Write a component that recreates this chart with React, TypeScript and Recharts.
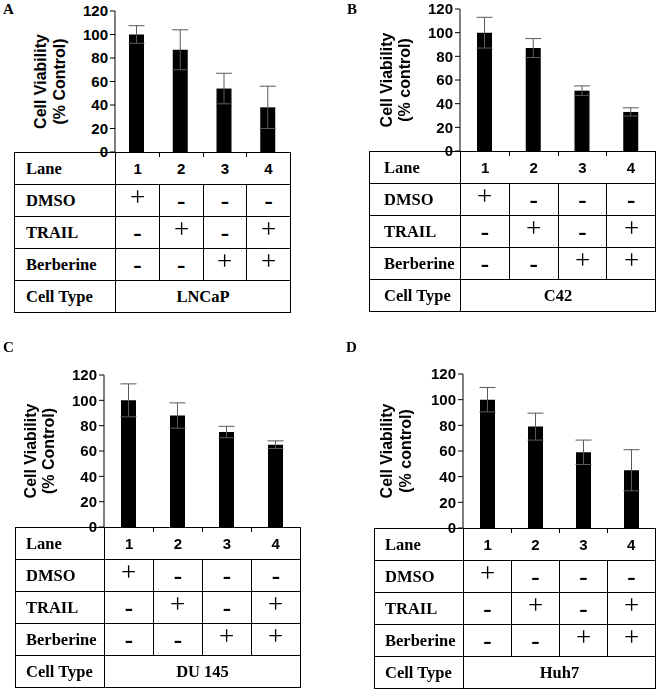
import React from 'react';
import { BarChart, Bar, XAxis, YAxis, ErrorBar } from 'recharts';

// shared categories / table content
const lanes = ['1', '2', '3', '4'];
const yTicks = [0, 20, 40, 60, 80, 100, 120];
const dmso = ['+', '-', '-', '-'];
const trail = ['-', '+', '-', '+'];
const berberine = ['-', '-', '+', '+'];

// cell viability (% control), mean and error per lane
const lncapMean = [100, 87, 54, 38];
const lncapErr = [7.5, 17, 13, 18];
const c42Mean = [100, 87, 51, 33];
const c42Err = [13, 8, 4, 3.5];
const du145Mean = [100, 88, 75, 65];
const du145Err = [13, 10, 4.5, 3];
const huh7Mean = [100, 79, 59, 45];
const huh7Err = [9.5, 10.5, 9.5, 16];

const serif = '"Liberation Serif", "DejaVu Serif", serif';
const sans = '"Liberation Sans", Arial, sans-serif';
const border = '1px solid #000';

interface Geom {
  x0: number;
  letterX: number;
  letterY: number;
  tableLeft: number;
  axisX: number;
  right: number;
  plotTop: number;
  zeroY: number;
  title1X: number;
  title2X: number;
  pad: number;
}

interface PanelProps {
  letter: string;
  cellType: string;
  title2: string;
  means: number[];
  errs: number[];
  g: Geom;
}

function Sym({ s }: { s: string }) {
  if (s === '+') {
    return (
      <span
        style={{
          display: 'inline-block',
          fontFamily: serif,
          fontWeight: 'normal',
          fontSize: 27,
          lineHeight: 1,
          transform: 'translateY(-3px)',
          willChange: 'transform',
          WebkitFontSmoothing: 'antialiased',
        }}
      >
        +
      </span>
    );
  }
  return (
    <span style={{ fontFamily: serif, fontWeight: 'bold', fontSize: 25, lineHeight: 1 }}>-</span>
  );
}

function Panel({ letter, cellType, title2, means, errs, g }: PanelProps) {
  const data = lanes.map((lane, i) => ({ lane, mean: means[i], err: errs[i] }));
  const L = g.x0;
  const T = g.plotTop - 12;
  const W = g.right - L + 6;
  const H = g.zeroY - T + 10;
  const band = (g.right - g.axisX) / lanes.length;
  const midY = (g.plotTop + g.zeroY) / 2;

  const labelTd: React.CSSProperties = {
    border,
    padding: `0 0 0 ${g.pad}px`,
    fontFamily: serif,
    fontWeight: 'bold',
    fontSize: 16.5,
    textAlign: 'left',
    verticalAlign: 'middle',
    whiteSpace: 'nowrap',
  };
  const symTd: React.CSSProperties = {
    border,
    padding: 0,
    textAlign: 'center',
    verticalAlign: 'middle',
  };
  const rows: [string, string[]][] = [
    ['DMSO', dmso],
    ['TRAIL', trail],
    ['Berberine', berberine],
  ];

  return (
    <>
      <svg
        width={660}
        height={692}
        style={{ position: 'absolute', left: 0, top: 0, pointerEvents: 'none' }}
      >
        <text x={g.letterX} y={g.letterY} fontFamily={serif} fontWeight="bold" fontSize={15}>
          {letter}
        </text>
        <text
          transform="rotate(-90)"
          x={-midY}
          y={g.title1X}
          textAnchor="middle"
          fontFamily={sans}
          fontWeight="bold"
          fontSize={16}
        >
          Cell Viability
        </text>
        <text
          transform="rotate(-90)"
          x={-midY}
          y={g.title2X}
          textAnchor="middle"
          fontFamily={sans}
          fontWeight="bold"
          fontSize={16}
        >
          {title2}
        </text>
      </svg>

      <div style={{ position: 'absolute', left: L, top: T }}>
        <BarChart
          width={W}
          height={H}
          data={data}
          margin={{ top: g.plotTop - T, right: L + W - g.right, bottom: H - (g.zeroY - T), left: 0 }}
        >
          <XAxis dataKey="lane" hide />
          <YAxis
            width={g.axisX - L}
            domain={[0, 120]}
            ticks={yTicks}
            interval={0}
            tickSize={5}
            tickMargin={2}
            axisLine={{ stroke: '#000' }}
            tickLine={{ stroke: '#000' }}
            tick={{ fill: '#000', fontFamily: sans, fontWeight: 'bold', fontSize: 15 }}
          />
          <Bar dataKey="mean" fill="#000" barSize={15} isAnimationActive={false}>
            <ErrorBar
              dataKey="err"
              width={8}
              stroke="#5a5a5a"
              strokeWidth={1}
              direction="y"
              isAnimationActive={false}
            />
          </Bar>
        </BarChart>
      </div>

      <table
        style={{
          position: 'absolute',
          left: g.tableLeft,
          top: g.zeroY,
          width: g.right - g.tableLeft,
          borderCollapse: 'collapse',
          tableLayout: 'fixed',
        }}
      >
        <colgroup>
          <col style={{ width: g.axisX - g.tableLeft }} />
          {lanes.map((l) => (
            <col key={l} style={{ width: band }} />
          ))}
        </colgroup>
        <tbody>
          <tr style={{ height: 32 }}>
            <td style={labelTd}>Lane</td>
            {lanes.map((l, i) => (
              <td
                key={l}
                style={{
                  borderTop: border,
                  borderBottom: border,
                  borderLeft: i === 0 ? border : 'none',
                  borderRight: i === lanes.length - 1 ? border : 'none',
                  padding: 0,
                  textAlign: 'center',
                  verticalAlign: 'middle',
                  fontFamily: sans,
                  fontWeight: 'bold',
                  fontSize: 15,
                }}
              >
                {l}
              </td>
            ))}
          </tr>
          {rows.map(([name, vals]) => (
            <tr key={name} style={{ height: 32 }}>
              <td style={labelTd}>{name}</td>
              {vals.map((s, i) => (
                <td key={i} style={symTd}>
                  <Sym s={s} />
                </td>
              ))}
            </tr>
          ))}
          <tr style={{ height: 32 }}>
            <td style={labelTd}>Cell Type</td>
            <td
              colSpan={lanes.length}
              style={{ ...symTd, fontFamily: serif, fontWeight: 'bold', fontSize: 16.5 }}
            >
              {cellType}
            </td>
          </tr>
        </tbody>
      </table>

      {lanes.slice(1).map((l, i) => (
        <div
          key={l}
          style={{
            position: 'absolute',
            left: g.axisX + band * (i + 1),
            top: g.zeroY,
            width: 1,
            height: 5,
            background: '#000',
          }}
        />
      ))}
    </>
  );
}

export default function App() {
  return (
    <div
      style={{
        position: 'absolute',
        left: 0,
        top: 0,
        width: 660,
        height: 692,
        background: '#fff',
        overflow: 'hidden',
      }}
    >
      <Panel
        letter="A"
        cellType="LNCaP"
        title2="(% Control)"
        means={lncapMean}
        errs={lncapErr}
        g={{ x0: 0, letterX: 3, letterY: 14, tableLeft: 14, axisX: 115, right: 290, plotTop: 11, zeroY: 152, title1X: 46, title2X: 65, pad: 11 }}
      />
      <Panel
        letter="B"
        cellType="C42"
        title2="(% control)"
        means={c42Mean}
        errs={c42Err}
        g={{ x0: 330, letterX: 347, letterY: 14, tableLeft: 369, axisX: 460, right: 655, plotTop: 9, zeroY: 151, title1X: 392, title2X: 410, pad: 14 }}
      />
      <Panel
        letter="C"
        cellType="DU 145"
        title2="(% Control)"
        means={du145Mean}
        errs={du145Err}
        g={{ x0: 0, letterX: 3, letterY: 352, tableLeft: 15, axisX: 104, right: 300, plotTop: 375, zeroY: 527, title1X: 36, title2X: 54, pad: 10 }}
      />
      <Panel
        letter="D"
        cellType="Huh7"
        title2="(% control)"
        means={huh7Mean}
        errs={huh7Err}
        g={{ x0: 330, letterX: 346, letterY: 352, tableLeft: 374, axisX: 463, right: 655, plotTop: 374, zeroY: 528, title1X: 392, title2X: 411, pad: 10 }}
      />
    </div>
  );
}
